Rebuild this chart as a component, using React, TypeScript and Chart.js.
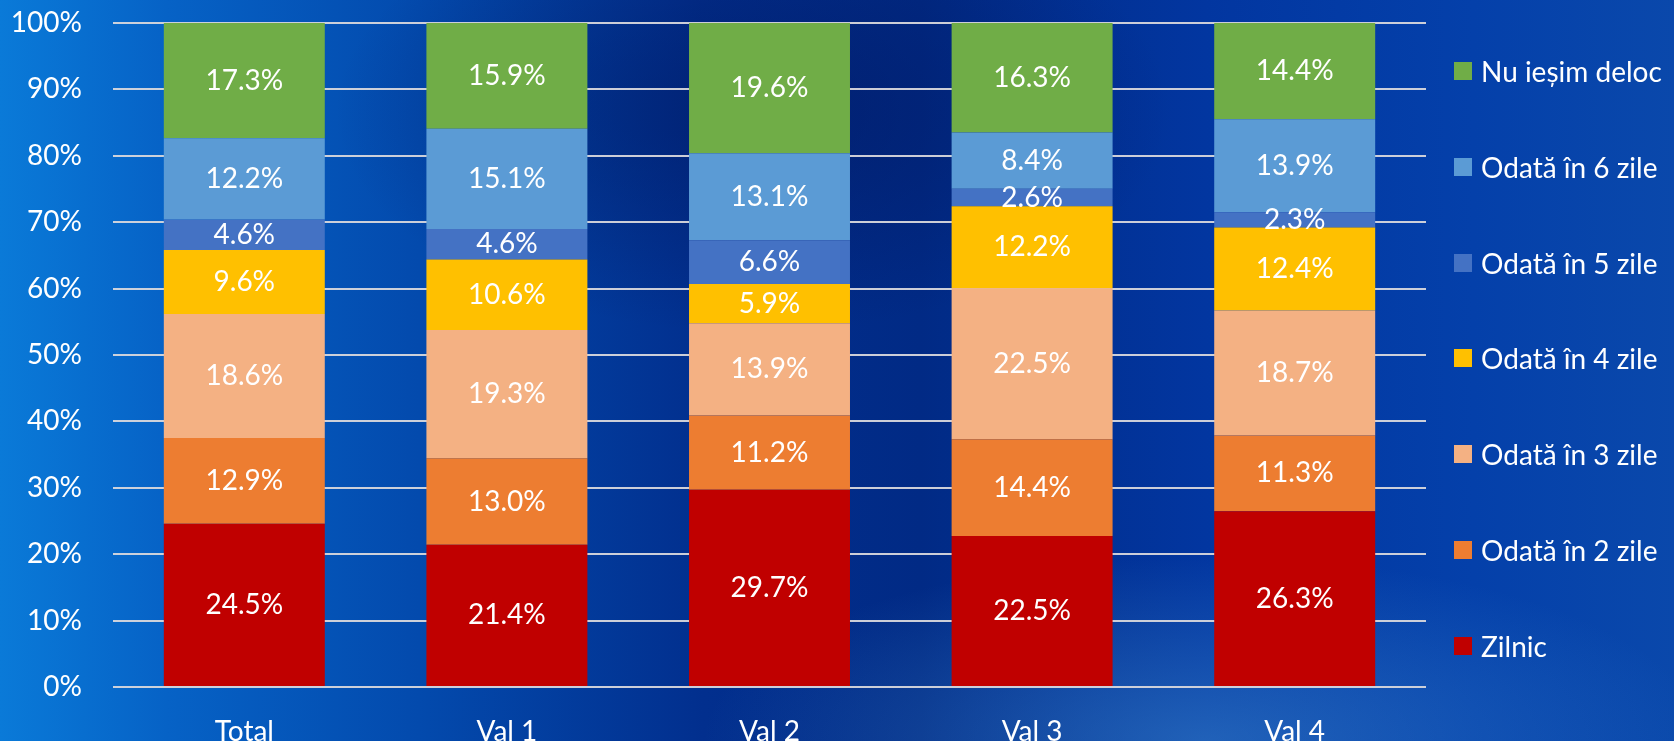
import React, { useEffect, useRef } from "react";
import { Chart, registerables } from "chart.js";

Chart.register(...registerables);

const categories = ["Total", "Val 1", "Val 2", "Val 3", "Val 4"];
const seriesNames = [
  "Zilnic",
  "Odată în 2 zile",
  "Odată în 3 zile",
  "Odată în 4 zile",
  "Odată în 5 zile",
  "Odată în 6 zile",
  "Nu ieșim deloc",
];
const seriesColors = ["#C00000", "#ED7D31", "#F4B183", "#FFC000", "#4472C4", "#5B9BD5", "#70AD47"];
const zilnic = [24.5, 21.4, 29.7, 22.5, 26.3];
const odata2 = [12.9, 13.0, 11.2, 14.4, 11.3];
const odata3 = [18.6, 19.3, 13.9, 22.5, 18.7];
const odata4 = [9.6, 10.6, 5.9, 12.2, 12.4];
const odata5 = [4.6, 4.6, 6.6, 2.6, 2.3];
const odata6 = [12.2, 15.1, 13.1, 8.4, 13.9];
const nuIesim = [17.3, 15.9, 19.6, 16.3, 14.4];
const yTicks = [0, 10, 20, 30, 40, 50, 60, 70, 80, 90, 100];

const seriesValues = [zilnic, odata2, odata3, odata4, odata5, odata6, nuIesim];

const FONT = "Lato, 'Open Sans', sans-serif";
const FS = 28;

const dataLabelPlugin = {
  id: "segLabels",
  afterDatasetsDraw(chart: any) {
    const ctx = chart.ctx;
    ctx.save();
    ctx.fillStyle = "#FFFFFF";
    ctx.font = `${FS}px ${FONT}`;
    ctx.textAlign = "center";
    ctx.textBaseline = "middle";
    chart.data.datasets.forEach((ds: any, di: number) => {
      const meta = chart.getDatasetMeta(di);
      meta.data.forEach((el: any, i: number) => {
        const raw = ds.raw[i];
        const cy = (el.y + el.base) / 2;
        ctx.fillText(raw.toFixed(1) + "%", el.x, cy);
      });
    });
    ctx.restore();
  },
};

export default function App() {
  const ref = useRef<HTMLCanvasElement | null>(null);

  useEffect(() => {
    if (!ref.current) return;
    const sums = categories.map((_, i) => seriesValues.reduce((s, arr) => s + arr[i], 0));
    const chart = new Chart(ref.current, {
      type: "bar",
      data: {
        labels: categories,
        datasets: seriesNames.map((name, si) => ({
          label: name,
          data: seriesValues[si].map((v, i) => (v / sums[i]) * 100),
          raw: seriesValues[si],
          backgroundColor: seriesColors[si],
          borderWidth: 0,
          categoryPercentage: 1,
          barPercentage: 0.613,
        })) as any,
      },
      options: {
        animation: false,
        responsive: false,
        layout: { padding: { left: 0, right: 248, top: 23, bottom: 0 } },
        plugins: {
          legend: { display: false },
          tooltip: { enabled: false },
        },
        scales: {
          x: {
            stacked: true,
            grid: { display: false },
            border: { display: false },
            ticks: { color: "#FFFFFF", font: { family: FONT, size: FS }, padding: 20 },
            afterFit: (s: any) => {
              s.height = 54;
              s.paddingLeft = 0;
              s.paddingRight = 0;
            },
          },
          y: {
            stacked: true,
            min: 0,
            max: 100,
            afterBuildTicks: (s: any) => {
              s.ticks = yTicks.map((v) => ({ value: v }));
            },
            ticks: {
              color: "#FFFFFF",
              font: { family: FONT, size: FS },
              padding: 31,
              callback: (v: any) => v + "%",
            },
            grid: { color: "rgba(215,215,220,0.95)", lineWidth: 2, drawTicks: false },
            border: { display: false },
            afterFit: (s: any) => {
              s.width = 113;
              s.paddingTop = 0;
              s.paddingBottom = 0;
            },
          },
        },
      },
      plugins: [dataLabelPlugin],
    });
    return () => chart.destroy();
  }, []);

  const legendItems = seriesNames
    .map((name, i) => ({ name, color: seriesColors[i] }))
    .reverse();

  return (
    <div
      style={{
        position: "fixed",
        left: 0,
        top: 0,
        width: 1674,
        height: 741,
        overflow: "hidden",
        background:
          "radial-gradient(ellipse 30% 25% at 72% 100%, rgba(70,150,215,0.45), rgba(70,150,215,0) 100%)," +
          "radial-gradient(ellipse 25% 30% at 45% 15%, rgba(0,20,90,0.5), rgba(0,20,90,0) 100%)," +
          "linear-gradient(90deg, #0a7ad8 0%, #0662c6 10%, #034aad 25%, #022f8e 42%, #012a85 55%, #0236a0 72%, #0440aa 88%, #0a48ab 100%)",
      }}
    >
      <canvas ref={ref} width={1674} height={741} style={{ display: "block", width: 1674, height: 741 }} />
      {legendItems.map((it, k) => (
        <div
          key={it.name}
          style={{
            position: "absolute",
            left: 1454,
            top: 71 + k * 95.8 - 18,
            height: 36,
            display: "flex",
            alignItems: "center",
            whiteSpace: "nowrap",
            fontFamily: FONT,
            fontSize: FS,
            color: "#FFFFFF",
          }}
        >
          <span style={{ display: "inline-block", width: 18, height: 18, background: it.color, marginRight: 9 }} />
          <span>{it.name}</span>
        </div>
      ))}
    </div>
  );
}
